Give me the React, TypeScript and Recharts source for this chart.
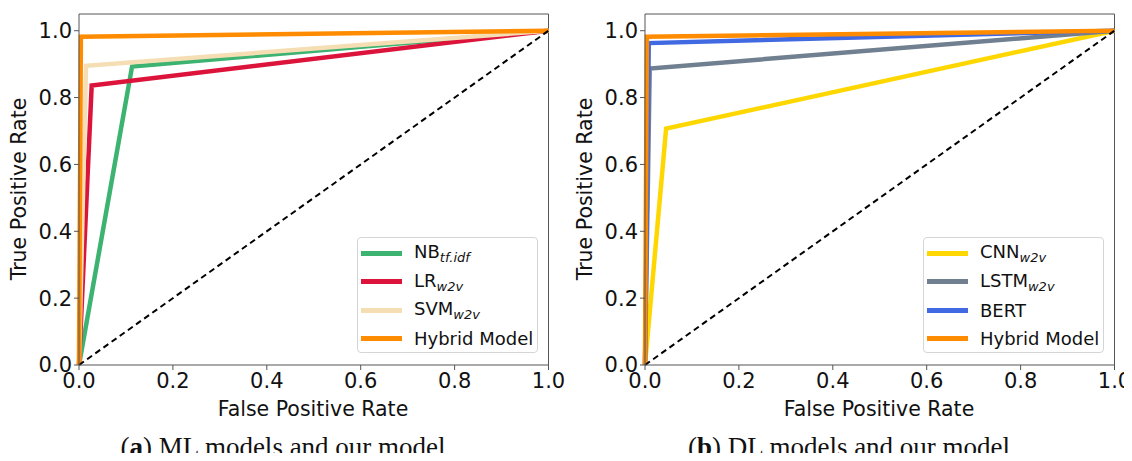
import React from 'react';
import { LineChart, Line, XAxis, YAxis, ReferenceLine } from 'recharts';

// ROC curve points (false positive rate / true positive rate)
const fprNB = [0, 0.113, 1];
const tprNB = [0, 0.893, 1];
const fprLR = [0, 0.027, 1];
const tprLR = [0, 0.836, 1];
const fprSVM = [0, 0.015, 1];
const tprSVM = [0, 0.895, 1];
const fprHybrid = [0, 0.004, 1];
const tprHybrid = [0, 0.982, 1];
const fprCNN = [0, 0.045, 1];
const tprCNN = [0, 0.707, 1];
const fprLSTM = [0, 0.01, 1];
const tprLSTM = [0, 0.887, 1];
const fprBERT = [0, 0.008, 1];
const tprBERT = [0, 0.963, 1];
const chanceLine = [0, 1];

const axisTicks = [0, 0.2, 0.4, 0.6, 0.8, 1.0];

const zip = (xs: number[], ys: number[]) => xs.map((x, i) => ({ x, y: ys[i] }));

interface Series {
  name: string;
  sub?: string;
  color: string;
  points: { x: number; y: number }[];
}

const mlSeries: Series[] = [
  { name: 'NB', sub: 'tf.idf', color: '#3cb371', points: zip(fprNB, tprNB) },
  { name: 'LR', sub: 'w2v', color: '#dc143c', points: zip(fprLR, tprLR) },
  { name: 'SVM', sub: 'w2v', color: '#f5deb3', points: zip(fprSVM, tprSVM) },
  { name: 'Hybrid Model', color: '#ff8c00', points: zip(fprHybrid, tprHybrid) },
];

const dlSeries: Series[] = [
  { name: 'CNN', sub: 'w2v', color: '#ffd700', points: zip(fprCNN, tprCNN) },
  { name: 'LSTM', sub: 'w2v', color: '#708090', points: zip(fprLSTM, tprLSTM) },
  { name: 'BERT', color: '#4169e1', points: zip(fprBERT, tprBERT) },
  { name: 'Hybrid Model', color: '#ff8c00', points: zip(fprHybrid, tprHybrid) },
];

const font = '"DejaVu Sans", sans-serif';
const spine = '#555';

function RocPanel({ series, left, tag, caption }: { series: Series[]; left: number; tag: string; caption: string }) {
  return (
    <div style={{ position: 'absolute', left, top: 0, width: 566, height: 461 }}>
      <LineChart width={566} height={400} margin={{ top: 14, right: 17.5, bottom: 5, left: 19 }}>
        <XAxis
          type="number"
          dataKey="x"
          domain={[0, 1]}
          ticks={axisTicks}
          tickFormatter={(v: number) => v.toFixed(1)}
          height={30}
          stroke={spine}
          tickSize={5}
          tickMargin={3}
          tick={{ fill: '#111', fontSize: 21, fontFamily: font }}
        />
        <YAxis
          type="number"
          dataKey="y"
          domain={[0, 1.05]}
          ticks={axisTicks}
          tickFormatter={(v: number) => v.toFixed(1)}
          width={60}
          stroke={spine}
          tickSize={5}
          tickMargin={2}
          tick={{ fill: '#111', fontSize: 21, fontFamily: font }}
        />
        <ReferenceLine y={1.05} stroke={spine} />
        <ReferenceLine x={1} stroke={spine} />
        {series.map((s) => (
          <Line
            key={s.name}
            data={s.points}
            dataKey="y"
            stroke={s.color}
            strokeWidth={4.5}
            dot={false}
            activeDot={false}
            isAnimationActive={false}
          />
        ))}
        <Line
          data={zip(chanceLine, chanceLine)}
          dataKey="y"
          stroke="#000"
          strokeWidth={2}
          strokeDasharray="6 4"
          dot={false}
          activeDot={false}
          isAnimationActive={false}
        />
      </LineChart>

      <div
        style={{
          position: 'absolute', left: 19 - 100, top: 189 - 14, width: 200, textAlign: 'center',
          transform: 'rotate(-90deg)', fontFamily: font, fontSize: 20.5, color: '#111', lineHeight: '28px',
        }}
      >
        True Positive Rate
      </div>
      <div
        style={{
          position: 'absolute', left: 313 - 150, top: 395, width: 300, textAlign: 'center',
          fontFamily: font, fontSize: 20.5, color: '#111', lineHeight: '28px',
        }}
      >
        False Positive Rate
      </div>

      <div
        style={{
          position: 'absolute', left: 357, top: 237, width: 181, height: 116,
          border: '1px solid #d5d5d5', borderRadius: 4, background: '#fff', boxSizing: 'border-box',
          fontFamily: font, fontSize: 18, color: '#111',
        }}
      >
        {series.map((s, i) => (
          <div key={s.name} style={{ position: 'absolute', left: 3, top: 2 + i * 28.5, height: 26, display: 'flex', alignItems: 'center' }}>
            <div style={{ width: 41, height: 5, background: s.color }} />
            <span style={{ marginLeft: 12, whiteSpace: 'nowrap' }}>
              {s.name}
              {s.sub && <sub style={{ fontSize: 13, fontStyle: 'italic', verticalAlign: -4 }}>{s.sub}</sub>}
            </span>
          </div>
        ))}
      </div>

      <div
        style={{
          position: 'absolute', left: 0, top: 434, width: 566, textAlign: 'center',
          fontFamily: '"Liberation Serif", serif', fontSize: 27, lineHeight: '27px', color: '#111',
        }}
      >
        (<b>{tag}</b>) {caption}
      </div>
    </div>
  );
}

export default function App() {
  // page is 1132x461 with the default 8px body margin, so the canvas is shifted back by 8px
  return (
    <div style={{ position: 'relative', width: 1116, height: 445 }}>
      <div style={{ position: 'absolute', left: -8, top: -8, width: 1132, height: 461, background: '#fff' }}>
        <RocPanel series={mlSeries} left={0} tag="a" caption="ML models and our model" />
        <RocPanel series={dlSeries} left={566} tag="b" caption="DL models and our model" />
      </div>
    </div>
  );
}
